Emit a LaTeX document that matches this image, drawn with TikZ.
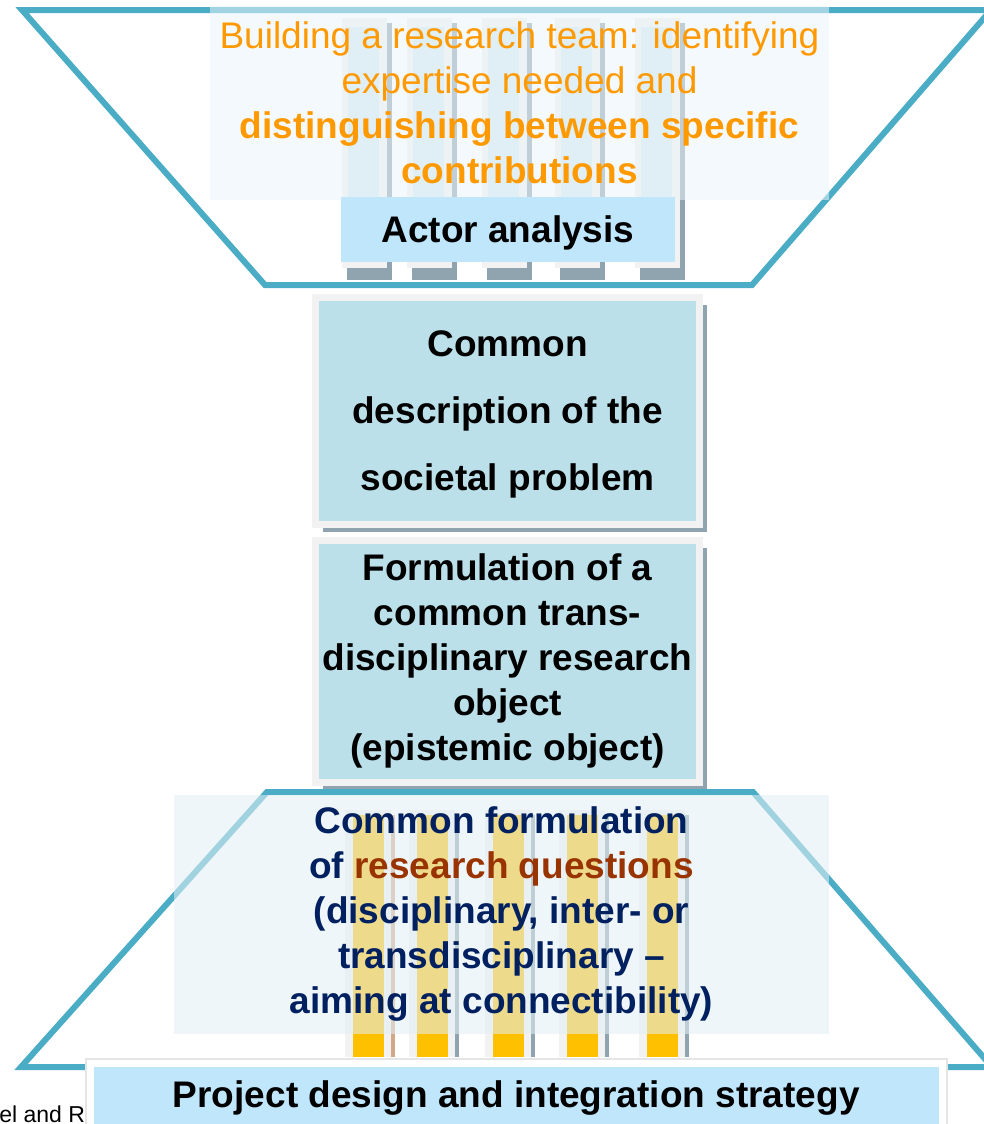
\documentclass[tikz,border=0pt]{standalone}
\usepackage{fontspec}
\setmainfont{Liberation Sans}
\usetikzlibrary{positioning,shadows}

\definecolor{funnelteal}{HTML}{4BACC6}
\definecolor{paletop}{HTML}{EAF4F9}
\definecolor{palebot}{HTML}{E1EFF4}
\definecolor{stagefill}{HTML}{BCE0E9}
\definecolor{framegray}{HTML}{F2F2F2}
\definecolor{shadowgray}{HTML}{8FA4AE}
\definecolor{labelblue}{HTML}{BFE6FA}
\definecolor{colblue}{HTML}{D2EAF1}
\definecolor{teamorange}{HTML}{FF9900}
\definecolor{qnavy}{HTML}{002060}
\definecolor{qbrown}{HTML}{993300}
\definecolor{baryellow}{HTML}{FFC000}
\definecolor{bartan}{HTML}{D2A88A}

\newcommand{\bigtext}{\fontsize{18.5pt}{22.5pt}\selectfont}

\tikzset{
  funnel/.style={draw=funnelteal, line width=3pt},
  palebox/.style={fill opacity=0.55, text opacity=1, inner sep=0pt, align=center, font=\bigtext},
  stagebox/.style={fill=stagefill, draw=framegray, line width=3.5pt, inner sep=0pt, align=center,
    minimum width=192pt, font=\bigtext\bfseries,
    drop shadow={shadow xshift=3.75pt, shadow yshift=-4pt, fill=shadowgray, opacity=1}},
  labelbox/.style={fill=labelblue, inner sep=0pt, font=\bigtext\bfseries}
}

\begin{document}
\begin{tikzpicture}[x=0.5pt,y=-0.5pt]
  \useasboundingbox (0,0) rectangle (984,1124);
  % upper funnel with its columns
  \foreach \fx in {342,407,482,555,635} {
    \fill[shadowgray] (\fx+5,23) rectangle (\fx+50,280);
    \fill[framegray] (\fx,18) rectangle (\fx+45,268);
    \fill[colblue] (\fx+6,27) rectangle (\fx+37,262);
  }
  \draw[funnel] (22,10) -- (991,10) -- (752,285) -- (265,285) -- cycle;
  \node[palebox, fill=paletop, text=teamorange, minimum width=309.5pt, minimum height=97pt] (team) at (519.5,103)
    {Building a research team: identifying\\expertise needed and\\\textbf{distinguishing between specific}\\\textbf{contributions}};
  \node[labelbox, text depth=0pt, minimum width=167pt, minimum height=32.5pt] (actor) at (508,229.5) {Actor analysis};

  % middle stages
  \node[stagebox, text depth=0pt, minimum height=113.5pt, font=\fontsize{18.5pt}{33.5pt}\selectfont\bfseries] (problem) at (507.5,410.75)
    {Common\\description of the\\societal problem};
  \node[stagebox, minimum height=121pt, below=4.5pt of problem] (object)
    {Formulation of a\\common trans-\\disciplinary research\\object\\(epistemic object)};

  % lower funnel with its columns
  \draw[funnel] (267,792) -- (753,792) -- (992,1067) -- (21,1067) -- cycle;
  \foreach \bx/\sc in {353/bartan,417/shadowgray,493/shadowgray,567/shadowgray,647/shadowgray} {
    \fill[framegray] (\bx-8,810) rectangle (\bx+38,1057);
    \fill[\sc] (\bx+38,815) rectangle (\bx+42,1057);
    \fill[baryellow] (\bx,815) rectangle (\bx+31,1057);
  }
  \node[palebox, fill=palebot, fill opacity=0.57, text=qnavy, font=\bigtext\bfseries, minimum width=327.5pt, minimum height=119.5pt] (questions) at (501.5,914.5)
    {Common formulation\\of {\color{qbrown}research questions}\\(disciplinary, inter- or\\transdisciplinary –\\aiming at connectibility)};

  \node[anchor=base west, inner sep=0pt, font=\fontsize{11.5pt}{13pt}\selectfont] (source) at (-1,1122) {el and R};
  \node[labelbox, draw=white, line width=3.5pt, preaction={draw=black!10, line width=5pt}, minimum width=426.25pt, minimum height=34.5pt] (design) at (516.25,1097.5)
    {Project design and integration strategy};
\end{tikzpicture}
\end{document}
